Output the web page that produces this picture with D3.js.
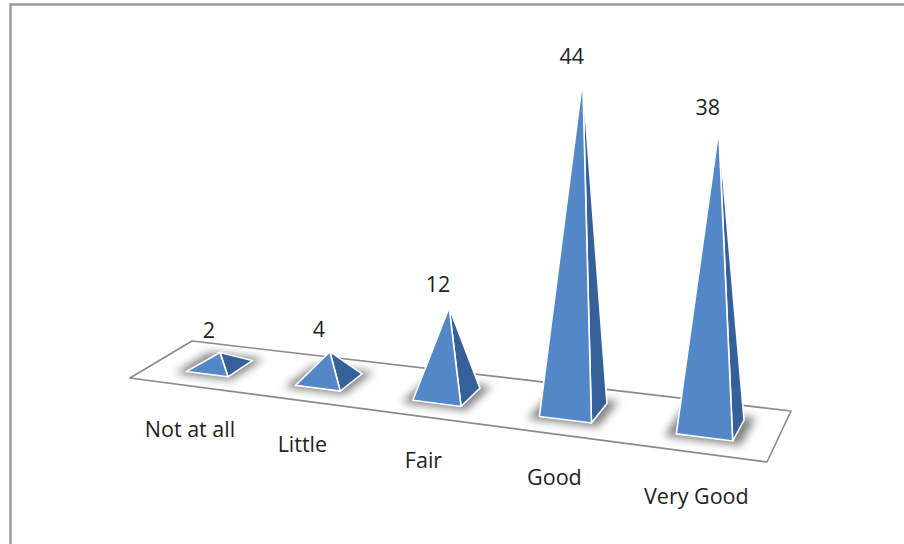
<!DOCTYPE html>
<html>
<head>
<meta charset="utf-8">
<script src="https://cdn.jsdelivr.net/npm/d3@7"></script>
<style>
html,body{margin:0;padding:0;background:#fff;overflow:hidden}
text{font-family:"Open Sans","Noto Sans",sans-serif;fill:#222}
</style>
</head>
<body>
<svg id="chart" width="904" height="544"></svg>
<script>
// Survey ratings
const categories = ["Not at all", "Little", "Fair", "Good", "Very Good"];
const values = [2, 4, 12, 44, 38];

const svg = d3.select("#chart");

// Floor plate corners on screen: front-left, front-right, back-right, back-left
const floor = [[130, 378], [767, 462], [791, 411], [192, 341]];

// Projective map from the unit floor square (u along the axis, v into depth)
function makeProjection([p0, p1, p2, p3]) {
  const dx1 = p1[0] - p2[0], dx2 = p3[0] - p2[0], sx = p0[0] - p1[0] + p2[0] - p3[0];
  const dy1 = p1[1] - p2[1], dy2 = p3[1] - p2[1], sy = p0[1] - p1[1] + p2[1] - p3[1];
  const det = dx1 * dy2 - dx2 * dy1;
  const g = (sx * dy2 - dx2 * sy) / det;
  const h = (dx1 * sy - sx * dy1) / det;
  const a = p1[0] - p0[0] + g * p1[0], b = p3[0] - p0[0] + h * p3[0];
  const d = p1[1] - p0[1] + g * p1[1], e = p3[1] - p0[1] + h * p3[1];
  const project = (u, v) => {
    const w = g * u + h * v + 1;
    return [(a * u + b * v + p0[0]) / w, (d * u + e * v + p0[1]) / w];
  };
  project.depth = (u, v) => 1 / (g * u + h * v + 1);
  return project;
}
const project = makeProjection(floor);

const x = d3.scaleBand().domain(categories).range([0.012, 1.004]).paddingInner(0.61).paddingOuter(0.3);
const z = d3.scaleLinear().domain([0, 44]).range([0, 330]);
const vFront = 0.29, vBack = 0.71, lean = 0.028;

const defs = svg.append("defs");
defs.append("filter").attr("id", "soft")
  .attr("x", "-40%").attr("y", "-80%").attr("width", "180%").attr("height", "260%")
  .append("feGaussianBlur").attr("stdDeviation", 4.5);

// Outer frame of the chart area
svg.append("path").attr("d", "M10.5,544V4.5H904")
  .attr("fill", "none").attr("stroke", "#9a9a9a").attr("stroke-width", 2.4);

// Floor plate
svg.append("path")
  .attr("d", d3.line()(floor) + "Z")
  .attr("fill", "#fff").attr("stroke", "#8a8a8a").attr("stroke-width", 1.6)
  .attr("stroke-linejoin", "round");

const pyramids = categories.map((name, i) => {
  const u0 = x(name), u1 = u0 + x.bandwidth(), uc = (u0 + u1) / 2, vc = (vFront + vBack) / 2;
  const left = project(u0, vFront), front = project(u1, vFront), right = project(u1, vBack),
        back = project(u0, vBack), centre = project(uc, vc);
  const h = z(values[i]) * project.depth(uc, vc) / project.depth(0.7, 0.5);
  return { name, value: values[i], left, front, right, back,
           apex: [centre[0] + h * lean, centre[1] - h], uc };
});

// Soft contact shadows on the floor
svg.append("g").selectAll("path").data(pyramids).join("path")
  .attr("d", p => {
    const c = [(p.left[0] + p.right[0]) / 2, (p.left[1] + p.right[1]) / 2];
    const grow = q => [c[0] + (q[0] - c[0]) * 1.34, c[1] + (q[1] - c[1]) * 1.3];
    return d3.line()([p.left, p.front, p.right, p.back].map(grow)) + "Z";
  })
  .attr("fill", "#808080").attr("filter", "url(#soft)");

// Pyramid faces: lit front, shaded side
const marks = svg.append("g").selectAll("g").data(pyramids).join("g")
  .attr("stroke", "#fff").attr("stroke-width", 1.6).attr("stroke-linejoin", "round");
marks.append("path")
  .attr("d", p => d3.line()([p.front, p.right, p.apex]) + "Z")
  .attr("fill", "#36609a");
marks.append("path")
  .attr("d", p => d3.line()([p.left, p.front, p.apex]) + "Z")
  .attr("fill", "#5387c8");

// Value labels above each apex
svg.append("g").selectAll("text").data(pyramids).join("text")
  .attr("x", p => p.apex[0] - 11)
  .attr("y", p => p.apex[1] - 15)
  .attr("text-anchor", "middle").attr("font-size", 21.5)
  .text(p => p.value);

// Category labels hang below the front edge of the floor plate
const labelAt = p => {
  const [lx, ly] = project(p.uc, 0);
  return [lx + 1, ly + 51];
};
svg.append("g").selectAll("text").data(pyramids).join("text")
  .attr("x", p => labelAt(p)[0])
  .attr("y", p => labelAt(p)[1])
  .attr("text-anchor", "middle").attr("font-size", 21.5)
  .text(p => p.name);
</script>
</body>
</html>
